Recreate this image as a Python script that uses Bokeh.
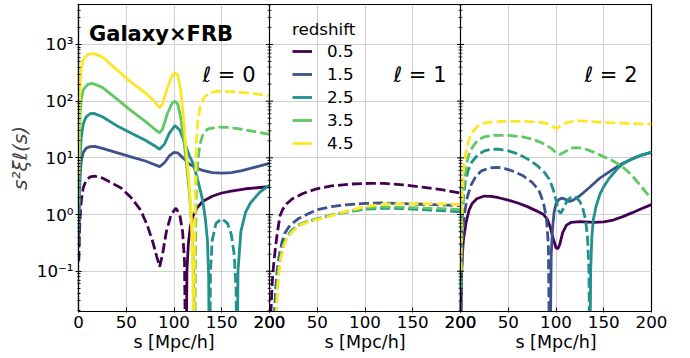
from bokeh.plotting import figure
from bokeh.models import (Range1d, LogTicker, FixedTicker, CustomJSTickFormatter, LinearAxis,
                          Span, Label, Legend, LegendItem)
from bokeh.embed import file_html
from bokeh.resources import INLINE

# ---------------- data ----------------
redshifts = ["0.5", "1.5", "2.5", "3.5", "4.5"]
colors = ["#440154", "#3b528b", "#21918c", "#5ec962", "#fde725"]
multipoles = ["ℓ = 0", "ℓ = 1", "ℓ = 2"]
x_ticks = [0, 50, 100, 150, 200]
x_tick_labels = ["0", "50", "100", "150", "200"]
x_title = "s [Mpc/h]"
y_title = "s²ξℓ(s)"
y_ticks = [0.1, 1, 10, 100, 1000]
y_tick_labels = ["10⁻¹", "10⁰", "10¹", "10²", "10³"]
s_max = 200

# ell = 0  (signed values of s^2 xi; negative -> dashed)
l0_s_z05 = [0.3, 1, 2, 3, 5, 8, 12, 17, 25, 35, 45, 55, 65, 72, 78, 82, 85, 88, 92, 97, 102, 106, 109, 111, 112.2,
            112.8, 113.5, 115, 117, 120, 124, 130, 140, 150, 160, 175, 190, 200]
l0_v_z05 = [-0.15, -0.5, -1.1, -1.8, -3.0, -4.0, -4.6, -4.75, -4.4, -3.6, -2.9, -2.0, -1.2, -0.65, -0.32, -0.18, -0.12,
            -0.2, -0.5, -1.0, -1.3, -1.0, -0.5, -0.15, -0.002,
            0.002, 0.1, 0.3, 0.6, 0.95, 1.3, 1.7, 2.1, 2.4, 2.6, 2.85, 3.0, 3.1]
l0_s_z15 = [0.3, 1, 2, 3, 5, 8, 12, 17, 25, 40, 55, 70, 78, 85, 90, 95, 100, 104, 110, 116, 122, 130, 140, 150, 160,
            170, 180, 190, 200]
l0_v_z15 = [0.3, 2.5, 6, 9, 12.5, 14.8, 15.8, 16, 14.7, 12.4, 10.4, 8.8, 7.8, 7.0, 8.2, 10.8, 12.5, 12.2, 9.8, 7.8, 6.8,
            6.0, 5.5, 5.4, 5.5, 5.9, 6.5, 7.2, 8.0]
l0_s_z25 = [0.3, 1, 2, 3, 5, 8, 12, 16, 25, 40, 55, 70, 80, 85, 90, 95, 101, 106, 112, 116, 120, 125, 130, 133, 135,
            136.3, 137.0,
            137.4, 138.2, 140, 144, 150, 156, 160, 163, 165, 165.8,
            166.2, 167, 170, 175, 180, 190, 200]
l0_v_z25 = [0.5, 4, 14, 24, 40, 53, 60, 61, 53, 37, 27.5, 20.5, 16.2, 14.2, 17.5, 27, 37, 31, 17, 11, 8, 4, 1.8, 0.8,
            0.35, 0.08, 0.002,
            -0.002, -0.1, -0.35, -0.7, -0.85, -0.7, -0.45, -0.2, -0.05, -0.002,
            0.002, 0.1, 0.5, 1.1, 1.6, 2.5, 3.3]
l0_s_z35 = [0.3, 1, 2, 3, 5, 10, 15, 25, 40, 55, 70, 78, 82, 85, 88, 93, 98, 101, 104, 107, 110, 113, 116, 118.5,
            120.5, 121.3,
            121.7, 122.4, 123.2, 124.5, 127, 130, 135, 145, 155, 165, 175, 185, 200]
l0_v_z35 = [1.5, 25, 70, 110, 160, 200, 205, 175, 110, 68, 44, 34, 30, 27.7, 32, 60, 92, 100, 88, 52, 22, 8, 2.5, 0.7,
            0.1, 0.002,
            -0.002, -0.2, -2, -7, -17, -25, -32, -35, -34.5, -33, -31, -29, -26]
l0_s_z45 = [0.3, 1, 2, 3, 5, 10, 16, 25, 40, 55, 70, 78, 82, 85, 88, 93, 98, 101, 104, 107, 110, 113, 115, 117,
            118.7, 119.8, 120.4,
            120.7, 121.4, 122.3, 123.5, 125, 127.5, 131, 136, 145, 155, 165, 175, 185, 200]
l0_v_z45 = [5, 80, 250, 400, 540, 670, 690, 605, 360, 216, 140, 105, 88, 77, 90, 170, 280, 316, 290, 160, 48, 12, 5.5,
            2, 0.5, 0.08, 0.002,
            -0.002, -0.2, -3, -20, -45, -80, -112, -137, -150, -149, -145, -140, -134, -125]

# ell = 1
l1_s_z05 = [0.5, 1.5, 3, 4.5, 6, 8, 11, 14, 18, 24, 35, 48, 65, 85, 105, 120, 140, 160, 180, 200]
l1_v_z05 = [-0.01, -0.02, -0.07, -0.14, -0.24, -0.45, -0.95, -1.25, -1.55, -1.9, -2.35, -2.8, -3.2, -3.45, -3.55,
            -3.55, -3.35, -3.05, -2.75, -2.4]
l1_s_z15 = [4, 5, 6.5, 8, 10, 13, 16, 20, 25, 30, 40, 50, 65, 80, 100, 120, 140, 160, 180, 200]
l1_v_z15 = [-0.005, -0.015, -0.05, -0.1, -0.18, -0.32, -0.47, -0.6, -0.72, -0.84, -1.02, -1.22, -1.38, -1.48, -1.57,
            -1.6, -1.56, -1.52, -1.48, -1.43]
l1_s_z25 = [5, 6, 7.5, 9, 11, 14, 18, 23, 30, 40, 50, 65, 80, 100, 120, 140, 160, 180, 200]
l1_v_z25 = [-0.005, -0.015, -0.05, -0.1, -0.17, -0.28, -0.4, -0.52, -0.65, -0.76, -0.84, -0.98, -1.1, -1.25, -1.3,
            -1.27, -1.22, -1.17, -1.12]
l1_s_z35 = [5.5, 6.5, 8, 9.5, 11.5, 14.5, 18.5, 24, 31, 41, 51, 65, 80, 100, 120, 140, 160, 180, 200]
l1_v_z35 = [-0.005, -0.015, -0.05, -0.1, -0.17, -0.28, -0.4, -0.52, -0.65, -0.76, -0.84, -0.98, -1.12, -1.3, -1.36,
            -1.34, -1.3, -1.27, -1.22]
l1_s_z45 = [6, 7, 8.5, 10, 12, 15, 19, 25, 32, 42, 52, 65, 80, 100, 120, 140, 160, 180, 200]
l1_v_z45 = [-0.005, -0.015, -0.05, -0.1, -0.17, -0.28, -0.4, -0.52, -0.65, -0.76, -0.83, -0.96, -1.14, -1.38, -1.53,
            -1.56, -1.56, -1.54, -1.5]

# ell = 2
l2_s_z05 = [0.5, 1, 2, 3, 6, 9, 12, 17, 25, 32, 40, 50, 60, 70, 80, 87, 91, 94, 97, 100, 102, 104, 107, 111, 116,
            125, 140, 150, 160, 170, 180, 190, 200]
l2_v_z05 = [0.02, 0.08, 0.2, 0.35, 0.75, 1.2, 1.55, 1.9, 2.12, 2.1, 1.98, 1.8, 1.6, 1.38, 1.15, 1.0, 0.82, 0.6, 0.38,
            0.26, 0.25, 0.3, 0.48, 0.65, 0.73, 0.75, 0.73, 0.74, 0.8, 0.92, 1.08, 1.28, 1.5]
l2_s_z15 = [0.5, 1, 2, 4, 7, 11, 16, 22, 30, 38, 45, 55, 65, 75, 82, 87, 90, 92, 93.2,
            93.8, 95, 96.5, 98, 100, 103, 106, 110, 114, 118, 125, 135, 146, 158, 169, 180, 190, 200]
l2_v_z15 = [-0.02, -0.08, -0.3, -1.0, -2.0, -3.3, -4.7, -5.9, -6.6, -6.8, -6.6, -5.8, -4.9, -3.7, -2.7, -1.6, -0.85,
            -0.3, -0.003,
            0.003, 0.2, 0.6, 1.1, 1.55, 1.85, 1.95, 1.85, 1.7, 1.8, 2.15, 3.0, 4.4, 6.0, 7.9, 9.6, 11.2, 12.5]
l2_s_z25 = [0.5, 1, 2, 3, 5, 8, 12, 18, 25, 32, 40, 50, 60, 70, 80, 88, 93, 97, 100, 103, 105, 108, 112, 117, 121,
            125, 128, 131, 133, 134.5, 135.2,
            135.6, 136.3, 137.5, 139, 142, 146, 150, 155, 160, 165, 170, 180, 190, 200]
l2_v_z25 = [-0.05, -0.3, -1.0, -2.0, -3.8, -6.0, -8.5, -11.3, -13.3, -14.2, -14.2, -13.3, -11.8, -9.6, -7.4, -5.5,
            -4.2, -2.8, -1.8, -1.15, -1.05, -1.3, -1.8, -2.1, -2.0, -1.7, -1.3, -0.8, -0.4, -0.1, -0.003,
            0.003, 0.1, 0.4, 0.8, 1.4, 2.3, 3.1, 4.2, 5.3, 6.6, 7.8, 9.7, 11.3, 12.6]
l2_s_z35 = [0.5, 1, 2, 3, 5, 8, 12, 18, 25, 35, 50, 65, 75, 85, 95, 100, 104, 110, 116, 122, 130, 140, 150, 160, 170,
            180, 190, 200]
l2_v_z35 = [-0.05, -0.3, -1.2, -2.8, -5.5, -10.5, -15, -20.5, -23.5, -25, -25, -23.5, -21.5, -18.5, -14.8, -12.2,
            -11.5, -13, -14.8, -15.2, -14.5, -12.5, -10.5, -8.8, -6.9, -4.8, -3.0, -1.9]
l2_s_z45 = [0.5, 1, 2, 3, 5, 8, 12, 18, 25, 35, 50, 65, 80, 90, 96, 100.5, 104, 110, 118, 125, 135, 150, 170, 185, 200]
l2_v_z45 = [-0.1, -0.6, -2.3, -5.7, -11, -19, -28, -36, -41, -43.5, -44.5, -44, -43, -40.5, -36, -33, -36, -41, -44.5,
            -45, -44, -42, -41, -40, -39]

panels = [
    [(l0_s_z05, l0_v_z05), (l0_s_z15, l0_v_z15), (l0_s_z25, l0_v_z25), (l0_s_z35, l0_v_z35), (l0_s_z45, l0_v_z45)],
    [(l1_s_z05, l1_v_z05), (l1_s_z15, l1_v_z15), (l1_s_z25, l1_v_z25), (l1_s_z35, l1_v_z35), (l1_s_z45, l1_v_z45)],
    [(l2_s_z05, l2_v_z05), (l2_s_z15, l2_v_z15), (l2_s_z25, l2_v_z25), (l2_s_z35, l2_v_z35), (l2_s_z45, l2_v_z45)],
]

# ---------------- figure ----------------
FONT = "DejaVu Sans"
LW = 2.8
DASH = "10 4"
Y_LO, Y_HI = 0.0195, 5070

p = figure(frame_width=573, frame_height=307, x_range=Range1d(0, 3 * s_max), y_range=Range1d(Y_LO, Y_HI),
           y_axis_type="log", output_backend="svg", toolbar_location=None,
           min_border_left=78, min_border_right=22, min_border_top=4, min_border_bottom=10)
p.outline_line_color = "black"
p.outline_line_width = 1.2
p.background_fill_color = "white"
p.border_fill_color = "white"


def runs(s, v):
    out, cs, cv, sign = [], [], [], None
    for si, vi in zip(s, v):
        sg = vi > 0
        if sign is not None and sg != sign:
            out.append((sign, cs, cv))
            cs, cv = [], []
        sign = sg
        cs.append(si)
        cv.append(abs(vi))
    out.append((sign, cs, cv))
    return out


legend_renderers = [None] * len(colors)
for k, curves in enumerate(panels):
    for i, ((s, v), c) in enumerate(zip(curves, colors)):
        for positive, cs, cv in runs(s, v):
            xs = [si + k * s_max for si in cs]
            if positive:
                r = p.line(xs, cv, line_color=c, line_width=LW)
                if legend_renderers[i] is None:
                    legend_renderers[i] = r
            else:
                p.line(xs, cv, line_color=c, line_width=LW, line_dash=DASH)

# panel separators
for k in (1, 2):
    p.add_layout(Span(location=k * s_max, dimension="height", line_color="black", line_width=1.2))

# tick marks on the shared spines
minor_vals = [m * 10.0 ** e for e in range(-2, 4) for m in range(2, 10) if Y_LO < m * 10.0 ** e < Y_HI]
for k in (1, 2):
    p.scatter([k * s_max] * len(y_ticks), y_ticks, marker="dash", size=7, line_color="black", line_width=1)
    p.scatter([k * s_max] * len(minor_vals), minor_vals, marker="dash", size=4, line_color="black", line_width=0.8)

# axes
all_x = [t + k * s_max for k in range(3) for t in x_ticks]
all_x_labels = [lab for k in range(3) for lab in x_tick_labels]
p.xaxis.ticker = FixedTicker(ticks=all_x)
p.xaxis.formatter = CustomJSTickFormatter(args=dict(pos=all_x, lab=all_x_labels), code="""
    for (let i = 0; i < pos.length; i++) { if (Math.abs(pos[i] - tick) < 1e-6) return lab[i]; }
    return "";
""")
p.yaxis.ticker = LogTicker(num_minor_ticks=10)
p.yaxis.formatter = CustomJSTickFormatter(args=dict(vals=y_ticks, labs=y_tick_labels), code="""
    for (let i = 0; i < vals.length; i++) {
        if (Math.abs(Math.log10(tick) - Math.log10(vals[i])) < 1e-6) return labs[i];
    }
    return "";
""")
for ax in (p.xaxis[0], p.yaxis[0]):
    ax.axis_line_color = "black"
    ax.axis_line_width = 1.2
    ax.major_tick_line_color = "black"
    ax.minor_tick_line_color = "black"
    ax.major_label_text_font = FONT
    ax.major_label_text_font_size = "16.7px"
    ax.major_label_text_color = "black"
p.xaxis.major_tick_in = 4
p.xaxis.major_tick_out = 1
p.xaxis.minor_tick_in = 0
p.xaxis.minor_tick_out = 0
p.xaxis.major_label_standoff = 3
p.yaxis.major_tick_in = 3
p.yaxis.major_tick_out = 3
p.yaxis.minor_tick_in = 2
p.yaxis.minor_tick_out = 1
p.yaxis.major_label_standoff = 2
p.yaxis.axis_label = y_title
p.yaxis.axis_label_text_font = FONT
p.yaxis.axis_label_text_font_size = "20px"
p.yaxis.axis_label_text_font_style = "italic"
p.yaxis.axis_label_standoff = 2

# per-panel x titles: a second, bare axis below whose labels sit at the panel centres
centres = [k * s_max + s_max / 2 for k in range(3)]
title_axis = LinearAxis(ticker=FixedTicker(ticks=centres),
                        formatter=CustomJSTickFormatter(args=dict(t=x_title), code="return t;"))
title_axis.axis_line_alpha = 0
title_axis.major_tick_line_alpha = 0
title_axis.minor_tick_line_alpha = 0
title_axis.major_tick_in = 0
title_axis.major_tick_out = 0
title_axis.minor_tick_in = 0
title_axis.minor_tick_out = 0
title_axis.major_label_standoff = 1
title_axis.major_label_text_font = FONT
title_axis.major_label_text_font_size = "17.5px"
title_axis.major_label_text_color = "black"
p.add_layout(title_axis, "below")

# grids
p.xgrid.ticker = FixedTicker(ticks=all_x)
p.xgrid.grid_line_color = "#d0d0d0"
p.xgrid.grid_line_width = 1.1
p.ygrid.grid_line_color = "#d0d0d0"
p.ygrid.grid_line_width = 1.1

# texts
p.add_layout(Label(x=10.5, y=278, x_units="screen", y_units="screen", text="Galaxy×FRB",
                   text_font=FONT, text_font_style="bold", text_font_size="21px",
                   text_baseline="alphabetic", text_color="black"))
for k, m in enumerate(multipoles):
    p.add_layout(Label(x=(k + 1) * s_max, y=237, x_units="data", y_units="screen", x_offset=-14,
                       text=m, text_align="right", text_baseline="alphabetic",
                       text_font=FONT, text_font_size="21px", text_color="black"))

# legend (solid samples)
items = [LegendItem(label=z, renderers=[r]) for z, r in zip(redshifts, legend_renderers)]
legend = Legend(items=items, title="redshift", location=(214, 158),
                border_line_alpha=0, background_fill_alpha=0, padding=0, margin=0,
                spacing=3, glyph_width=20, glyph_height=20, label_height=20, label_standoff=15,
                label_text_font=FONT, label_text_font_size="16.7px", label_text_color="black",
                title_text_font=FONT, title_text_font_size="16.7px", title_text_font_style="normal",
                title_text_color="black", title_standoff=2)
p.add_layout(legend)

open("out.html", "w").write(file_html(p, INLINE))
